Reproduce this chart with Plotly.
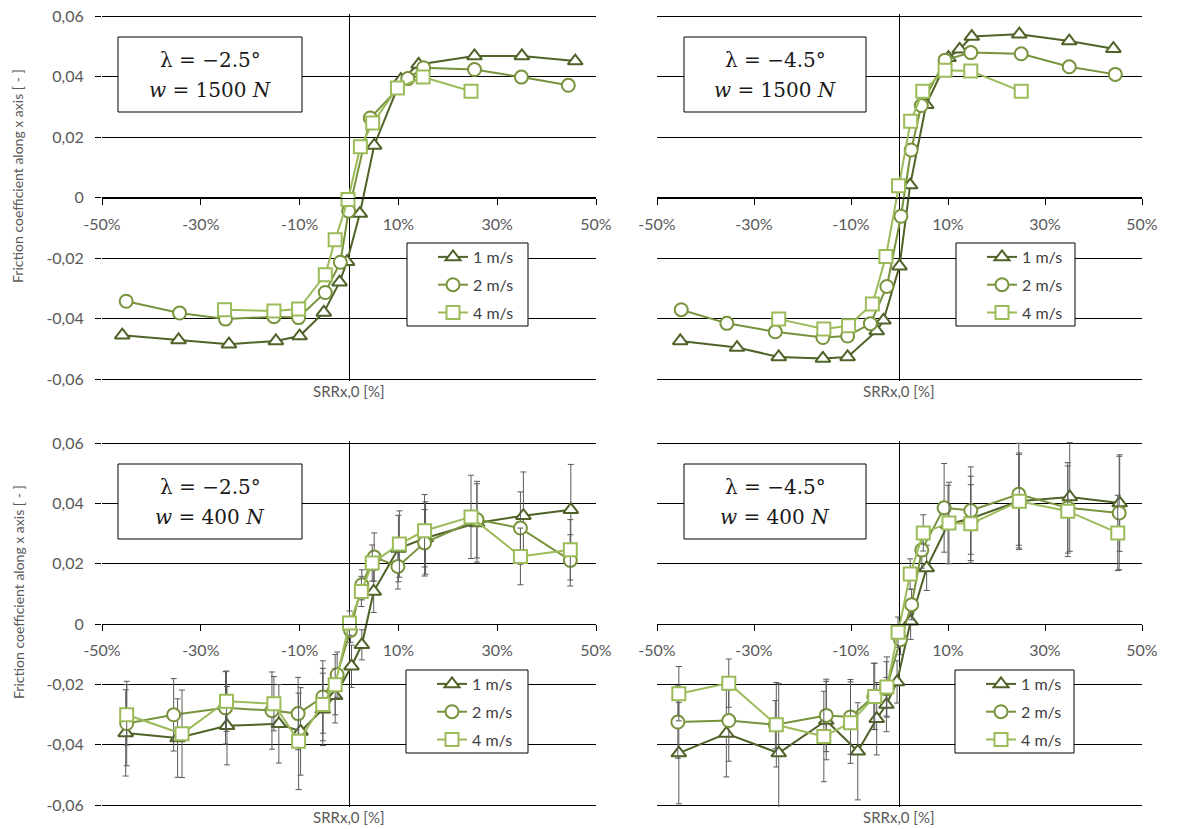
import plotly.graph_objects as go

# ---------------- data ----------------
speeds = ["1 m/s", "2 m/s", "4 m/s"]
colors = ["#4F6228", "#77933C", "#9BBB59"]
symbols = ["triangle-up", "circle", "square"]

panel_line1 = ["λ = −2.5°", "λ = −4.5°", "λ = −2.5°", "λ = −4.5°"]
panel_line2 = ["<i>w</i> = 1500 <i>N</i>", "<i>w</i> = 1500 <i>N</i>",
               "<i>w</i> = 400 <i>N</i>", "<i>w</i> = 400 <i>N</i>"]

x_ticks = [-50, -30, -10, 10, 30, 50]
x_tick_text = ["-50%", "-30%", "-10%", "10%", "30%", "50%"]
y_ticks = [0.06, 0.04, 0.02, 0, -0.02, -0.04, -0.06]
y_tick_text = ["0,06", "0,04", "0,02", "0", "-0,02", "-0,04", "-0,06"]
x_title = "SRRx,0 [%]"
y_title = "Friction coefficient along x axis [ - ]"

# top-left: lambda -2.5, w 1500 N
tl_x1 = [-45.9, -34.5, -24.3, -14.8, -10.0, -5.1, -1.9, -0.4, 2.2, 5.1, 10.5, 14.1, 25.4, 35.0, 45.8]
tl_y1 = [-0.0455, -0.0471, -0.0485, -0.0474, -0.0458, -0.0380, -0.0280, -0.0212, -0.0053, 0.0172, 0.0390, 0.0440, 0.0468, 0.0468, 0.0451]
tl_x2 = [-45.1, -34.3, -25.0, -15.2, -10.2, -4.8, -1.75, -0.07, 4.3, 11.9, 15.1, 25.4, 34.9, 44.4]
tl_y2 = [-0.0343, -0.0382, -0.0402, -0.0394, -0.0397, -0.0314, -0.0214, -0.0045, 0.0263, 0.0393, 0.0429, 0.0423, 0.0398, 0.0371]
tl_x4 = [-25.2, -15.2, -10.2, -4.8, -2.8, -0.2, 2.3, 4.8, 9.8, 15.0, 24.7]
tl_y4 = [-0.0371, -0.0375, -0.0369, -0.0255, -0.0140, -0.0007, 0.0168, 0.0246, 0.0362, 0.0398, 0.0351]

# top-right: lambda -4.5, w 1500 N
tr_x1 = [-45.2, -33.5, -24.9, -15.8, -10.7, -4.7, -3.3, 0.0, 2.2, 5.5, 10.1, 12.4, 14.9, 24.7, 35.0, 44.1]
tr_y1 = [-0.0474, -0.0496, -0.0527, -0.0532, -0.0527, -0.0441, -0.0406, -0.0227, 0.0041, 0.0307, 0.0462, 0.0490, 0.0532, 0.0540, 0.0517, 0.0492]
tr_x2 = [-45.0, -35.6, -25.6, -15.8, -10.7, -6.0, -2.6, 0.3, 2.4, 4.5, 9.4, 14.7, 25.1, 35.0, 44.5]
tr_y2 = [-0.0371, -0.0416, -0.0444, -0.0463, -0.0458, -0.0417, -0.0294, -0.0062, 0.0157, 0.0304, 0.0454, 0.0479, 0.0475, 0.0432, 0.0407]
tr_x4 = [-24.9, -15.6, -10.5, -5.6, -2.8, -0.2, 2.3, 4.8, 9.4, 14.7, 25.1]
tr_y4 = [-0.0402, -0.0435, -0.0424, -0.0352, -0.0195, 0.0039, 0.0252, 0.0351, 0.0421, 0.0418, 0.0351]

# bottom-left: lambda -2.5, w 400 N
bl_x1 = [-45.2, -34.7, -24.7, -14.2, -9.8, -5.3, -2.8, 0.5, 2.6, 5.0, 10.0, 15.5, 25.9, 35.3, 44.9]
bl_y1 = [-0.0361, -0.0378, -0.0337, -0.0331, -0.0356, -0.0283, -0.0238, -0.0140, -0.0069, 0.0108, 0.0250, 0.0285, 0.0335, 0.0359, 0.0379]
bl_e1 = [0.0143, 0.013, 0.013, 0.013, 0.0145, 0.012, 0.009, 0.007, 0.005, 0.007, 0.011, 0.012, 0.013, 0.0145, 0.015]
bl_x2 = [-45.0, -35.5, -25.0, -15.6, -10.3, -5.3, -2.4, 0.3, 2.6, 5.1, 9.9, 15.3, 25.9, 34.7, 44.8]
bl_y2 = [-0.0330, -0.0301, -0.0278, -0.0287, -0.0297, -0.0242, -0.0168, -0.0021, 0.0130, 0.0222, 0.0191, 0.0269, 0.0346, 0.0318, 0.0211]
bl_e2 = [0.014, 0.012, 0.012, 0.0128, 0.012, 0.012, 0.0075, 0.004, 0.005, 0.008, 0.0075, 0.011, 0.0127, 0.012, 0.0085]
bl_x4 = [-45.0, -33.8, -24.8, -15.2, -10.2, -5.3, -2.8, 0.1, 2.5, 4.7, 10.2, 15.3, 24.7, 34.7, 44.8]
bl_y4 = [-0.0301, -0.0364, -0.0256, -0.0264, -0.0389, -0.0267, -0.0201, 0.0003, 0.0108, 0.0202, 0.0265, 0.0309, 0.0355, 0.0224, 0.0246]
bl_e4 = [0.010, 0.0145, 0.010, 0.009, 0.016, 0.012, 0.010, 0.004, 0.005, 0.006, 0.011, 0.012, 0.0138, 0.0094, 0.010]

# bottom-right: lambda -4.5, w 400 N
br_x1 = [-45.5, -35.7, -24.9, -15.1, -8.6, -4.7, -2.7, -0.5, 2.3, 5.6, 10.0, 14.7, 24.6, 35.1, 45.4]
br_y1 = [-0.0428, -0.0363, -0.0428, -0.0320, -0.0422, -0.0314, -0.0267, -0.0192, 0.0009, 0.0186, 0.0330, 0.0350, 0.0407, 0.0421, 0.0401]
br_e1 = [0.0168, 0.0144, 0.023, 0.013, 0.0161, 0.012, 0.009, 0.007, 0.006, 0.0075, 0.013, 0.014, 0.0155, 0.018, 0.016]
br_x2 = [-45.7, -35.2, -25.6, -15.1, -10.1, -5.3, -2.7, 0.2, 2.5, 4.6, 9.2, 14.7, 24.6, 34.7, 45.3]
br_y2 = [-0.0325, -0.0320, -0.0334, -0.0303, -0.0308, -0.0240, -0.0215, -0.0052, 0.0064, 0.0245, 0.0385, 0.0376, 0.0430, 0.0385, 0.0368]
br_e2 = [0.012, 0.0135, 0.008, 0.012, 0.0124, 0.011, 0.009, 0.005, 0.005, 0.006, 0.0147, 0.0145, 0.0169, 0.015, 0.0188]
br_x4 = [-45.5, -35.2, -25.4, -15.6, -10.1, -5.1, -2.6, -0.3, 2.2, 4.9, 10.2, 14.7, 24.7, 34.7, 45.0]
br_y4 = [-0.0231, -0.0196, -0.0334, -0.0373, -0.0327, -0.0240, -0.0209, -0.0027, 0.0166, 0.0302, 0.0335, 0.0332, 0.0407, 0.0374, 0.0302]
br_e4 = [0.009, 0.008, 0.014, 0.015, 0.0135, 0.011, 0.010, 0.005, 0.005, 0.006, 0.0135, 0.013, 0.016, 0.015, 0.0125]

panels = [
    dict(xs=[tl_x1, tl_x2, tl_x4], ys=[tl_y1, tl_y2, tl_y4], es=None),
    dict(xs=[tr_x1, tr_x2, tr_x4], ys=[tr_y1, tr_y2, tr_y4], es=None),
    dict(xs=[bl_x1, bl_x2, bl_x4], ys=[bl_y1, bl_y2, bl_y4], es=[bl_e1, bl_e2, bl_e4]),
    dict(xs=[br_x1, br_x2, br_x4], ys=[br_y1, br_y2, br_y4], es=[br_e1, br_e2, br_e4]),
]

# ---------------- layout helpers (pixel geometry; body margin removed by post_script) ----------------
W, H = 1180, 829
def fx(px): return px / W
def fy(py): return 1 - py / H

Y_LIM = 0.06
PAD = 2  # px of extra room so that the edge gridlines are not clipped
plot_x = [(102, 596), (657, 1142), (102, 596), (657, 1142)]
plot_y = [(16, 379), (16, 379), (443, 805), (443, 805)]
label_box_x = [(118, 302), (684, 866), (118, 302), (684, 866)]
label_box_y = [(37, 112), (37, 112), (464, 539), (464, 539)]
legend_box_x = [(407, 528), (956, 1075), (406, 528), (955, 1074)]
legend_box_y = [(243, 326), (243, 326), (670, 753), (670, 753)]

TXT = "#595959"
FONT = "Lato"

fig = go.Figure()
layout = dict(width=W, height=H,
              margin=dict(l=0, r=0, t=0, b=0, pad=0, autoexpand=False),
              paper_bgcolor="white", plot_bgcolor="rgba(0,0,0,0)",
              showlegend=True, font=dict(family=FONT, color=TXT, size=16))
shapes, annotations = [], []

for i, p in enumerate(panels):
    n = i + 1
    xa = "x" if n == 1 else f"x{n}"
    ya = "y" if n == 1 else f"y{n}"
    lg = "legend" if n == 1 else f"legend{n}"
    for k in range(3):
        err = None
        if p["es"] is not None:
            err = dict(type="data", array=p["es"][k], visible=True,
                       color="#5a5a5a", thickness=1, width=3)
        fig.add_trace(go.Scatter(
            x=p["xs"][k], y=p["ys"][k], mode="lines+markers", name=speeds[k],
            xaxis=xa, yaxis=ya, legend=lg, legendgroup=f"p{n}s{k}",
            line=dict(color=colors[k], width=2),
            marker=dict(symbol=symbols[k], size=13, color="white",
                        line=dict(color=colors[k], width=2)),
            error_y=err))

    x0, x1 = plot_x[i]
    y0, y1 = plot_y[i]
    half = (y1 - y0) / 2
    ylim = Y_LIM * (half + PAD) / half
    dom_y = [fy(y1 + PAD), fy(y0 - PAD)]
    left = (i % 2 == 0)
    layout[("xaxis" if n == 1 else f"xaxis{n}")] = dict(
        domain=[fx(x0), fx(x1)], range=[-50, 50], anchor="free",
        position=(dom_y[0] + dom_y[1]) / 2, automargin=False,
        showgrid=False, zeroline=True, zerolinecolor="black", zerolinewidth=1,
        showline=True, linecolor="black", linewidth=1,
        ticks="outside", ticklen=6, tickcolor="black", tickwidth=1,
        tickvals=x_ticks, ticktext=x_tick_text, ticklabelstandoff=6,
        ticklabeloverflow="allow",
        tickfont=dict(family=FONT, size=16, color=TXT), fixedrange=True)
    layout[("yaxis" if n == 1 else f"yaxis{n}")] = dict(
        domain=dom_y, range=[-ylim, ylim], anchor=xa, automargin=False,
        showgrid=True, gridcolor="black", gridwidth=1, zeroline=False,
        showline=False, ticks="outside" if left else "", ticklen=6,
        tickcolor="black", tickvals=y_ticks, ticktext=y_tick_text,
        showticklabels=left, ticklabelstandoff=8, ticklabeloverflow="allow",
        tickfont=dict(family=FONT, size=16, color=TXT), fixedrange=True)

    # label box
    bx0, bx1 = label_box_x[i]
    by0, by1 = label_box_y[i]
    shapes.append(dict(type="rect", xref="paper", yref="paper",
                       x0=fx(bx0), x1=fx(bx1), y0=fy(by1), y1=fy(by0),
                       line=dict(color="black", width=1), fillcolor="white",
                       layer="above"))
    for txt, dy in ((panel_line1[i], 23), (panel_line2[i], 53)):
        annotations.append(dict(xref="paper", yref="paper",
                                x=fx((bx0 + bx1) / 2), y=fy(by0 + dy),
                                xanchor="center", yanchor="middle", showarrow=False,
                                text=txt, align="center",
                                font=dict(family="DejaVu Serif", size=20, color="#1a1a1a")))
    # legend box
    lx0, lx1 = legend_box_x[i]
    ly0, ly1 = legend_box_y[i]
    shapes.append(dict(type="rect", xref="paper", yref="paper",
                       x0=fx(lx0), x1=fx(lx1), y0=fy(ly1), y1=fy(ly0),
                       line=dict(color="black", width=1), fillcolor="white",
                       layer="above"))
    layout[lg] = dict(x=fx(lx0 + 26), y=fy(ly0 - 3), xanchor="left", yanchor="top",
                      bgcolor="rgba(0,0,0,0)", borderwidth=0,
                      font=dict(family=FONT, size=16, color="#404040"),
                      traceorder="grouped", tracegroupgap=4,
                      itemclick=False, itemdoubleclick=False)
    # x title
    annotations.append(dict(xref="paper", yref="paper",
                            x=fx(349 if left else 899), y=fy(y1 + 12),
                            xanchor="center", yanchor="middle", showarrow=False,
                            text=x_title, font=dict(family=FONT, size=15, color=TXT)))

# y titles
for cy in (176, 592):
    annotations.append(dict(xref="paper", yref="paper", x=fx(18), y=fy(cy),
                            xanchor="center", yanchor="middle", showarrow=False,
                            textangle=-90, text=y_title,
                            font=dict(family=FONT, size=14, color=TXT)))

layout["shapes"] = shapes
layout["annotations"] = annotations
fig.update_layout(**layout)
fig.write_html("out.html", config={"displayModeBar": False},
               post_script="document.body.style.margin='0px';document.body.style.overflow='hidden';")
